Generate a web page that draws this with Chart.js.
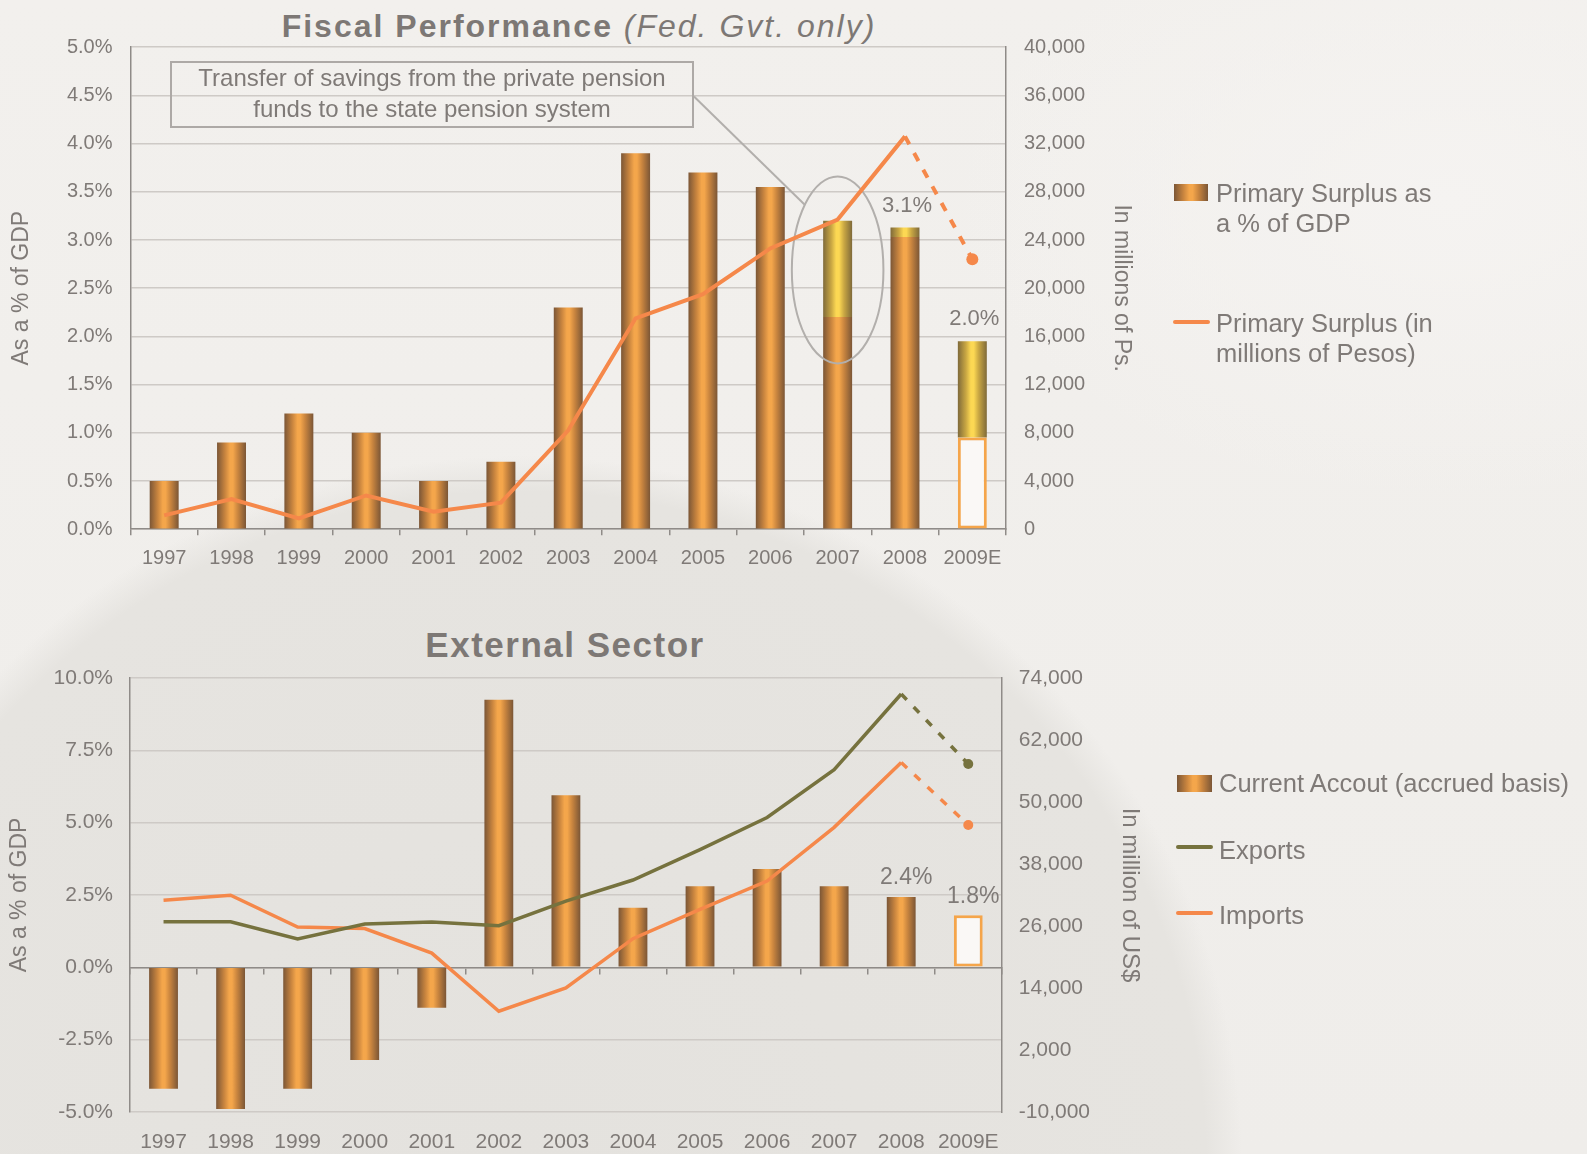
<!DOCTYPE html>
<html><head><meta charset="utf-8">
<script src="https://cdn.jsdelivr.net/npm/chart.js@4.4.1/dist/chart.umd.min.js"></script>
<style>
html,body{margin:0;padding:0;}
body{width:1587px;height:1154px;overflow:hidden;position:relative;font-family:'Liberation Sans',Arial,sans-serif;color:#7F7A77;
background:
 radial-gradient(ellipse 723px 708px at 519px 1164px, #E4E2DE 0%, #E6E4E0 95%, rgba(230,228,224,0) 100%),
 radial-gradient(ellipse 500px 300px at 1450px 200px, rgba(245,243,241,1) 0%, rgba(245,243,241,0) 100%),
 linear-gradient(180deg,#F2F0ED 0%, #EFEDEA 100%);}
canvas{position:absolute;left:0;}
.title{position:absolute;left:0;text-align:center;white-space:nowrap;color:#7D7875;font-weight:bold;}
.note{position:absolute;left:170px;top:61px;width:520px;height:63px;border:2px solid #ADA9A6;text-align:center;font-size:24px;line-height:30.7px;color:#7F7A77;}
.lg{position:absolute;font-size:25.5px;line-height:30px;color:#7F7A77;white-space:nowrap;}
.sw{position:absolute;background:linear-gradient(90deg,#7B5636 0%,#C9853F 28%,#F4A64B 45%,#F4A64B 55%,#C9853F 72%,#7B5636 100%);}
.ln{position:absolute;height:4px;border-radius:2px;}
</style></head>
<body>
<div class="title" style="width:1158px;top:6px;font-size:32px;line-height:40px;letter-spacing:2px;">Fiscal Performance <span style="font-weight:normal;font-style:italic;">(Fed. Gvt. only)</span></div>
<div class="title" style="width:1130px;top:623px;font-size:35px;line-height:44px;letter-spacing:1.5px;">External Sector</div>
<canvas id="c1" width="1587" height="585" style="top:0;width:1587px;height:585px;"></canvas>
<canvas id="c2" width="1587" height="569" style="top:585px;width:1587px;height:569px;"></canvas>
<div class="note">Transfer of savings from the private pension<br>funds to the state pension system</div>

<div class="sw" style="left:1174px;top:184px;width:34px;height:17px;"></div>
<div class="lg" style="left:1216px;top:178px;">Primary Surplus as<br>a % of GDP</div>
<div class="ln" style="left:1173px;top:320px;width:37px;background:#F5884A;"></div>
<div class="lg" style="left:1216px;top:308px;">Primary Surplus (in<br>millions of Pesos)</div>

<div class="sw" style="left:1177px;top:775px;width:35px;height:17px;"></div>
<div class="lg" style="left:1219px;top:768px;">Current Accout (accrued basis)</div>
<div class="ln" style="left:1176px;top:845px;width:37px;background:#76723E;"></div>
<div class="lg" style="left:1219px;top:834.5px;">Exports</div>
<div class="ln" style="left:1176px;top:911px;width:37px;background:#F5884A;"></div>
<div class="lg" style="left:1219px;top:899.5px;">Imports</div>

<script>
// ---------- data ----------
const years = ['1997','1998','1999','2000','2001','2002','2003','2004','2005','2006','2007','2008','2009E'];
const estimateIndex = 12;

// Fiscal Performance
const fiscalBasePct      = [0.5, 0.9, 1.2, 1.0, 0.5, 0.7, 2.3, 3.9, 3.7, 3.55, 2.2, 3.03, 0.95];
const fiscalTransferPct  = [null,null,null,null,null,null,null,null,null,null, 1.0, 0.1, 1.0];
const fiscalSurplusPesos = [1150, 2500, 900, 2800, 1450, 2200, 8200, 17500, 19500, 23300, 25700, 32600, 22400];
const fiscalValueLabels  = ['','','','','','','','','','','','3.1%','2.0%'];
const fiscalPctAxis   = {min:0, max:5, step:0.5};
const fiscalPesosAxis = {min:0, max:40000, step:4000};
const calloutRangePct = [1.72, 3.66];   // span of the ellipse around 2007 (% of GDP)

// External Sector
const currentAccountPct = [-4.2, -4.9, -4.2, -3.2, -1.4, 9.25, 5.95, 2.06, 2.8, 3.4, 2.8, 2.43, 1.8];
const exportsUSD = [26800, 26800, 23500, 26400, 26750, 26050, 30800, 34900, 40800, 47000, 56250, 70900, 57350];
const importsUSD = [31000, 31950, 25800, 25500, 20750, 9500, 14000, 23550, 29200, 34700, 45100, 57650, 45550];
const extValueLabels = ['','','','','','','','','','','','2.4%','1.8%'];
const extPctAxis = {min:-5, max:10, step:2.5};
const extUsdAxis = {min:-10000, max:74000, step:12000};

// ---------- styles ----------
const TXT = '#7F7A77', GRID = '#CECAC6', AXIS = '#8F8B88';
const ORANGE = '#F5884A', OLIVE = '#76723E';
const FONT = "'Liberation Sans', Arial, sans-serif";
Chart.defaults.font.family = FONT;
Chart.defaults.color = TXT;

const ORANGE_STOPS = [[0,'#7B5636'],[0.28,'#C9853F'],[0.45,'#F4A64B'],[0.55,'#F4A64B'],[0.72,'#C9853F'],[1,'#7B5636']];
const YELLOW_STOPS = [[0,'#7F6A3A'],[0.28,'#C9A743'],[0.45,'#FCD853'],[0.55,'#FCD853'],[0.72,'#C9A743'],[1,'#7F6A3A']];
const BAR_PCT = 0.43;

function barGradient(ctx, stops){
  const chart = ctx.chart;
  const xs = chart.scales.x;
  if(!xs || !chart.chartArea || ctx.dataIndex === undefined) return stops[2][1];
  const cx = xs.getPixelForValue(ctx.dataIndex);
  const w = xs.width / years.length * BAR_PCT;
  const g = chart.ctx.createLinearGradient(cx - w/2, 0, cx + w/2, 0);
  stops.forEach(s => g.addColorStop(s[0], s[1]));
  return g;
}

const valueLabelPlugin = {
  id:'valueLabels',
  afterDatasetsDraw(chart, args, opts){
    const labels = opts.labels; if(!labels) return;
    const ctx = chart.ctx;
    ctx.save();
    ctx.font = opts.size + 'px ' + FONT;
    ctx.fillStyle = TXT; ctx.textAlign = 'center'; ctx.textBaseline = 'middle';
    labels.forEach((txt, i) => {
      if(!txt) return;
      let top = Infinity, x = 0;
      chart.data.datasets.forEach((ds, di) => {
        if(ds.type !== 'bar' || ds.data[i] == null) return;
        const el = chart.getDatasetMeta(di).data[i];
        if(el && Math.min(el.y, el.base) < top){ top = Math.min(el.y, el.base); x = el.x; }
      });
      ctx.fillText(txt, x + opts.dx, top - opts.gap);
    });
    ctx.restore();
  }
};

const calloutPlugin = {
  id:'callout',
  afterDatasetDraw(chart, args){
    if(args.index !== 0) return;
    const {ctx, scales:{x, y}} = chart;
    const cx = x.getPixelForValue(10);
    const top = y.getPixelForValue(calloutRangePct[1]);
    const bot = y.getPixelForValue(calloutRangePct[0]);
    const cy = (top + bot)/2, ry = (bot - top)/2, rx = x.width / years.length * 0.68;
    ctx.save();
    ctx.strokeStyle = '#B2AFAC'; ctx.lineWidth = 2;
    ctx.beginPath(); ctx.ellipse(cx, cy, rx, ry, 0, 0, Math.PI*2); ctx.stroke();
    const t = Math.PI + 0.77;
    ctx.beginPath(); ctx.moveTo(694, 96.5); ctx.lineTo(cx + rx*Math.cos(t), cy + ry*Math.sin(t)); ctx.stroke();
    ctx.restore();
  }
};

const pctTick = v => Number(v).toFixed(1) + '%';
const numTick = v => Math.round(v).toLocaleString('en-US');

// ---------- Chart 1: Fiscal Performance ----------
new Chart(document.getElementById('c1'), {
  data:{
    labels: years,
    datasets:[
      {type:'bar', label:'Primary Surplus as a % of GDP', data: fiscalBasePct, order:1,
       xAxisID:'x', yAxisID:'y', categoryPercentage:1, barPercentage:BAR_PCT,
       backgroundColor: c => c.dataIndex === estimateIndex ? '#FAF8F6' : barGradient(c, ORANGE_STOPS),
       borderColor: c => c.dataIndex === estimateIndex ? '#F5A54A' : 'rgba(0,0,0,0)',
       borderWidth: c => c.dataIndex === estimateIndex ? 3 : 0,
       borderSkipped: false},
      {type:'bar', label:'Transfer', data: fiscalTransferPct, order:2,
       xAxisID:'x', yAxisID:'y', categoryPercentage:1, barPercentage:BAR_PCT,
       backgroundColor: c => barGradient(c, YELLOW_STOPS), borderWidth:0},
      {type:'line', label:'Primary Surplus (in millions of Pesos)', data: fiscalSurplusPesos, order:0,
       xAxisID:'x', yAxisID:'y1', borderColor: ORANGE, backgroundColor: ORANGE, borderWidth:4,
       pointRadius: c => c.dataIndex === estimateIndex ? 6 : 0, pointHoverRadius:0,
       pointBorderWidth:0, pointBackgroundColor: ORANGE, tension:0,
       segment:{borderDash: c => c.p1DataIndex === estimateIndex ? [9,10] : undefined}}
    ]
  },
  options:{
    responsive:false, animation:false, devicePixelRatio:1,
    layout:{padding:{top:47.2, left:0, right:452, bottom:0}},
    plugins:{legend:{display:false}, tooltip:{enabled:false},
      valueLabels:{labels: fiscalValueLabels, size:22, gap:22, dx:2}},
    scales:{
      x:{stacked:true, offset:true,
         grid:{offset:true, drawOnChartArea:false, drawTicks:true, tickLength:6, color:AXIS, lineWidth:1.5},
         border:{color:AXIS, width:1.5},
         ticks:{font:{size:20}, padding:11, maxRotation:0, autoSkip:false, color:TXT},
         afterFit(s){ s.height = 55.8; }},
      y:{stacked:true, position:'left', min:fiscalPctAxis.min, max:fiscalPctAxis.max,
         ticks:{stepSize:fiscalPctAxis.step, padding:18, callback:pctTick, font:{size:20}, color:TXT},
         grid:{color:GRID, lineWidth:1.5, drawTicks:false},
         border:{color:AXIS, width:1.5},
         title:{display:true, text:'As a % of GDP', font:{size:23}, color:TXT, padding:{top:8, bottom:0}},
         afterFit(s){ s.width = 130.5; }},
      y1:{position:'right', min:fiscalPesosAxis.min, max:fiscalPesosAxis.max,
         ticks:{stepSize:fiscalPesosAxis.step, padding:18, callback:numTick, font:{size:20}, color:TXT},
         grid:{drawOnChartArea:false, drawTicks:false},
         border:{color:AXIS, width:1.5},
         title:{display:true, text:'In millions of Ps.', font:{size:23}, color:TXT, padding:{top:0, bottom:0}},
         afterFit(s){ s.width = 129; }}
    }
  },
  plugins:[valueLabelPlugin, calloutPlugin]
});

// ---------- Chart 2: External Sector ----------
new Chart(document.getElementById('c2'), {
  data:{
    labels: years,
    datasets:[
      {type:'bar', label:'Current Accout (accrued basis)', data: currentAccountPct, order:1,
       xAxisID:'x', yAxisID:'y', categoryPercentage:1, barPercentage:BAR_PCT,
       backgroundColor: c => c.dataIndex === estimateIndex ? '#FAF8F6' : barGradient(c, ORANGE_STOPS),
       borderColor: c => c.dataIndex === estimateIndex ? '#F5A54A' : 'rgba(0,0,0,0)',
       borderWidth: c => c.dataIndex === estimateIndex ? 3 : 0,
       borderSkipped: false},
      {type:'line', label:'Exports', data: exportsUSD, order:0,
       xAxisID:'x', yAxisID:'y1', borderColor: OLIVE, backgroundColor: OLIVE, borderWidth:3.5,
       pointRadius: c => c.dataIndex === estimateIndex ? 5 : 0, pointHoverRadius:0,
       pointBorderWidth:0, pointBackgroundColor: OLIVE, tension:0,
       segment:{borderDash: c => c.p1DataIndex === estimateIndex ? [8,10] : undefined}},
      {type:'line', label:'Imports', data: importsUSD, order:0,
       xAxisID:'x', yAxisID:'y1', borderColor: ORANGE, backgroundColor: ORANGE, borderWidth:3.5,
       pointRadius: c => c.dataIndex === estimateIndex ? 5 : 0, pointHoverRadius:0,
       pointBorderWidth:0, pointBackgroundColor: ORANGE, tension:0,
       segment:{borderDash: c => c.p1DataIndex === estimateIndex ? [8,10] : undefined}}
    ]
  },
  options:{
    responsive:false, animation:false, devicePixelRatio:1,
    layout:{padding:{top:93, left:0, right:443, bottom:0}},
    plugins:{legend:{display:false}, tooltip:{enabled:false},
      valueLabels:{labels: extValueLabels, size:23, gap:19, dx:5}},
    scales:{
      x:{offset:true, position:'bottom',
         grid:{display:false, drawTicks:false}, border:{display:false},
         ticks:{font:{size:21}, padding:18, maxRotation:0, autoSkip:false, color:TXT},
         afterFit(s){ s.height = 42; }},
      x2:{type:'category', labels: years, position:{y:0}, offset:true,
         grid:{offset:true, drawOnChartArea:false, drawTicks:true, tickLength:6, color:AXIS, lineWidth:1.5},
         border:{display:true, color:AXIS, width:1.5},
         ticks:{display:false}},
      y:{position:'left', min:extPctAxis.min, max:extPctAxis.max,
         ticks:{stepSize:extPctAxis.step, padding:17, callback:pctTick, font:{size:21}, color:TXT},
         grid:{color:GRID, lineWidth:1.5, drawTicks:false},
         border:{color:AXIS, width:1.5},
         title:{display:true, text:'As a % of GDP', font:{size:23}, color:TXT, padding:{top:6, bottom:0}},
         afterFit(s){ s.width = 130; }},
      y1:{position:'right', min:extUsdAxis.min, max:extUsdAxis.max,
         ticks:{stepSize:extUsdAxis.step, padding:17, callback:numTick, font:{size:21}, color:TXT},
         grid:{drawOnChartArea:false, drawTicks:false},
         border:{color:AXIS, width:1.5},
         title:{display:true, text:'In million of US$', font:{size:24}, color:TXT, padding:{top:0, bottom:0}},
         afterFit(s){ s.width = 142.2; }}
    }
  },
  plugins:[valueLabelPlugin]
});
</script>
</body></html>
